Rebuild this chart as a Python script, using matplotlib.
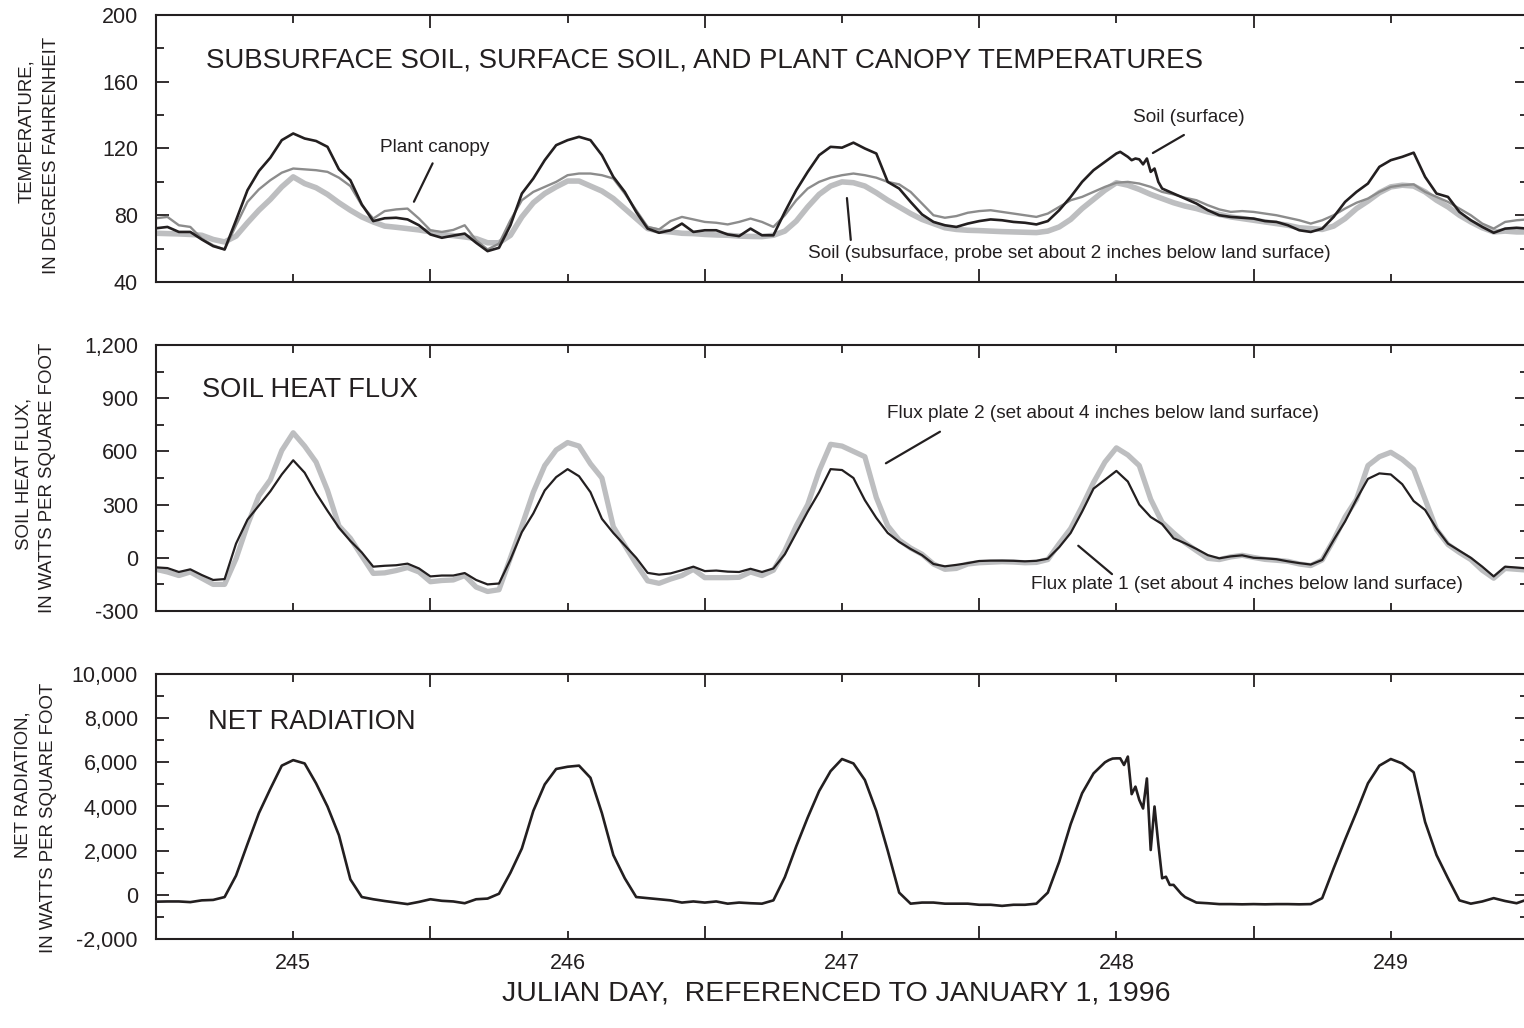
import numpy as np
import matplotlib
matplotlib.use("Agg")
import matplotlib.pyplot as plt

plt.rcParams['font.family'] = ['Liberation Sans', 'DejaVu Sans']
plt.rcParams['axes.unicode_minus'] = False

# Hourly readings, Julian days 244.5 - 249.5 (1996)
hours = np.arange(121)
julian_day = 244.5 + hours / 24.0

# Temperatures, degrees Fahrenheit
soil_surface = [
    72.2, 73.0, 70.0, 70.0, 65.5, 61.5, 59.5, 77.0, 95.0, 106.5, 114.5, 125.0,
    129.0, 126.0, 124.5, 121.0, 107.5, 101.0, 86.5, 76.5, 78.2, 78.5, 77.5, 74.0,
    68.5, 66.5, 67.8, 69.0, 63.5, 58.5, 60.5, 74.0, 93.0, 102.0, 113.0, 122.0,
    125.0, 127.0, 125.0, 116.0, 103.0, 94.0, 82.0, 72.0, 69.5, 71.0, 75.0, 70.0,
    71.0, 71.0, 68.5, 67.5, 72.0, 68.0, 68.0, 82.0, 95.0, 106.0, 116.0, 121.0,
    120.5, 123.5, 120.0, 117.0, 100.0, 96.0, 88.0, 80.5, 76.0, 74.0, 73.0, 75.0,
    76.5, 77.5, 77.0, 76.0, 75.5, 74.5, 76.5, 83.0, 91.0, 100.0, 107.0, 112.0,
    117.0, 115.0, 113.0, 107.0, 96.0, 93.0, 90.0, 87.0, 83.0, 80.0, 79.0, 78.5,
    78.0, 76.5, 76.0, 74.0, 71.0, 70.0, 72.0, 79.0, 88.0, 94.0, 99.0, 109.0,
    113.0, 115.0, 117.5, 103.0, 93.0, 91.0, 82.0, 77.0, 73.0, 69.5, 72.0, 72.5,
    72.0,
]
# 20-minute readings of surface temperature around the day-248 afternoon
surface_detail_day = [248.0, 248.0139, 248.0278, 248.0417, 248.0556, 248.0694,
                      248.0833, 248.0972, 248.1111, 248.125, 248.1389,
                      248.1528, 248.1667]
surface_detail = [117.0, 118.0, 116.5, 115.0, 113.0, 114.0, 113.5, 110.5,
                  114.0, 106.0, 108.0, 100.0, 96.0]

plant_canopy = [
    78.2, 79.0, 74.0, 73.0, 66.0, 62.0, 59.5, 74.0, 88.0, 95.5, 101.0, 105.5,
    108.0, 107.5, 107.0, 106.0, 102.5, 97.5, 86.0, 78.0, 82.5, 83.5, 84.0, 78.0,
    71.0, 70.0, 71.2, 74.0, 65.0, 59.5, 63.0, 77.0, 89.0, 94.0, 97.0, 100.0,
    104.0, 105.0, 105.0, 104.0, 102.0, 93.0, 83.0, 73.0, 71.5, 76.5, 79.0, 77.5,
    76.0, 75.5, 74.5, 76.0, 78.0, 76.0, 73.0, 80.0, 89.0, 96.0, 100.0, 102.5,
    104.0, 105.0, 104.0, 102.5, 100.0, 98.5, 94.0, 87.0, 80.0, 78.5, 79.5, 81.5,
    82.5, 83.0, 82.0, 81.0, 80.0, 79.0, 81.0, 85.0, 89.0, 91.0, 94.0, 97.0,
    99.5, 100.0, 99.0, 97.0, 94.0, 92.5, 90.5, 89.0, 86.0, 83.5, 82.0, 82.5,
    82.0, 81.0, 80.0, 78.5, 77.0, 75.0, 77.0, 80.0, 84.0, 87.5, 90.0, 94.0,
    97.0, 98.0, 98.5, 94.0, 91.0, 88.0, 84.0, 80.0, 75.0, 72.0, 76.0, 77.0,
    77.5,
]
soil_subsurface = [
    69.2, 69.0, 68.8, 68.5, 68.0, 65.5, 64.0, 67.5, 75.5, 83.0, 89.5, 97.0,
    103.0, 99.0, 96.5, 92.5, 87.5, 83.0, 79.0, 76.0, 73.5, 72.8, 72.0, 71.2,
    70.0, 68.5, 67.8, 67.0, 66.0, 63.5, 63.5, 68.0, 79.0, 87.5, 93.0, 97.0,
    100.5, 100.5, 97.5, 94.5, 90.0, 84.0, 78.0, 72.0, 70.5, 70.0, 69.2, 69.0,
    68.5, 68.2, 68.0, 67.5, 67.3, 67.2, 68.0, 70.5, 76.5, 85.0, 92.5, 97.5,
    100.0, 99.5, 97.5, 93.5, 89.0, 85.0, 81.0, 77.5, 75.0, 72.5, 71.5, 71.0,
    70.8, 70.5, 70.2, 70.0, 69.8, 69.6, 70.5, 73.0, 77.5, 84.0, 89.5, 95.0,
    99.5, 98.0, 95.5, 92.5, 90.0, 87.5, 85.5, 84.0, 82.0, 80.5, 79.0, 78.0,
    77.0, 76.0, 75.0, 74.0, 72.5, 72.0, 71.5, 73.5, 78.0, 84.0, 88.5, 93.5,
    97.0, 98.0, 97.5, 94.0, 89.0, 85.0, 80.0, 76.0, 72.5, 70.0, 70.5, 70.0,
    70.0,
]

# Soil heat flux, watts per square foot
flux_plate_1 = [
    -54, -58, -80, -65, -97, -125, -120, 80, 215, 295, 375, 470,
    550, 480, 365, 265, 170, 95, 30, -50, -45, -42, -33, -60,
    -105, -100, -100, -86, -125, -150, -145, -10, 145, 250, 380, 455,
    500, 460, 370, 220, 140, 70, 0, -85, -95, -88, -70, -50,
    -75, -72, -78, -80, -62, -80, -60, 20, 140, 260, 370, 500,
    495, 450, 325, 225, 140, 90, 50, 15, -35, -48, -40, -30,
    -18, -16, -16, -17, -20, -17, -5, 60, 140, 260, 390, 440,
    490, 430, 300, 230, 190, 110, 82, 50, 15, -3, 8, 14,
    0, -3, -8, -20, -30, -38, -12, 100, 205, 330, 445, 476,
    470, 415, 320, 270, 165, 80, 40, 0, -50, -105, -50, -55,
    -60,
]
flux_plate_2 = [
    -65, -80, -100, -80, -115, -150, -150, -5, 185, 350, 440, 605,
    705, 630, 540, 380, 180, 110, 10, -88, -85, -72, -55, -80,
    -135, -128, -125, -100, -165, -190, -180, 0, 180, 370, 520, 608,
    650, 630, 530, 450, 175, 70, -35, -130, -144, -120, -100, -65,
    -112, -112, -112, -110, -80, -100, -70, 40, 180, 300, 490, 640,
    630, 600, 570, 340, 180, 100, 55, 20, -35, -65, -60, -35,
    -28, -25, -22, -24, -28, -26, -10, 80, 165, 290, 425, 540,
    620, 580, 520, 330, 200, 140, 85, 40, -3, -10, 5, 14,
    2, -9, -14, -20, -35, -44, -12, 100, 230, 330, 520, 570,
    595, 555, 500, 330, 160, 75, 30, -10, -70, -115, -60, -65,
    -70,
]

# Net radiation, watts per square foot
net_radiation = [
    -310, -300, -300, -330, -250, -230, -100, 870, 2300, 3700, 4800, 5850,
    6100, 5950, 5050, 4000, 2700, 700, -100, -200, -280, -350, -420, -320,
    -200, -270, -300, -380, -200, -170, 50, 1000, 2100, 3800, 5000, 5700,
    5800, 5850, 5300, 3700, 1800, 750, -100, -150, -200, -250, -350, -300,
    -350, -300, -400, -350, -380, -400, -250, 800, 2200, 3500, 4700, 5600,
    6150, 5950, 5200, 3800, 2000, 100, -400, -350, -350, -400, -400, -400,
    -450, -450, -500, -450, -450, -400, 100, 1500, 3200, 4600, 5500, 6000,
    6180, 6000, 4500, 2500, 800, 450, -100, -350, -380, -420, -420, -430,
    -420, -430, -420, -420, -430, -420, -150, 1200, 2500, 3750, 5050, 5850,
    6150, 5950, 5550, 3300, 1800, 750, -250, -400, -300, -150, -280, -380,
    -200,
]
# 20-minute readings of net radiation around the day-248 afternoon
radiation_detail_day = [247.9583, 247.9722, 247.9861, 248.0, 248.0139, 248.0278,
                        248.0417, 248.0556, 248.0694, 248.0833, 248.0972,
                        248.1111, 248.125, 248.1389, 248.1528, 248.1667,
                        248.1806, 248.1944, 248.2083, 248.2222, 248.2361, 248.25]
radiation_detail = [6000, 6100, 6170, 6180, 6180, 5880, 6260, 4560, 4900, 4300,
                    3910, 5270, 2030, 4000, 2300, 750, 820, 450, 450, 250, 50,
                    -100]

day_ticks = [245, 246, 247, 248, 249]
half_day_ticks = [244.5, 245.5, 246.5, 247.5, 248.5, 249.5]

temp_ticks = [40, 80, 120, 160, 200]
flux_ticks = [-300, 0, 300, 600, 900, 1200]
radiation_ticks = [-2000, 0, 2000, 4000, 6000, 8000, 10000]

BLACK = '#231f20'
MID_GRAY = '#8c8c8c'
LIGHT_GRAY = '#bdbec0'


def with_detail(values, detail_day, detail_values):
    """Hourly series with the finer readings spliced in over their span."""
    values = np.asarray(values, dtype=float)
    dd = np.asarray(detail_day, dtype=float)
    keep = (julian_day < dd[0] - 1e-6) | (julian_day > dd[-1] + 1e-6)
    x = np.concatenate([julian_day[keep], dd])
    y = np.concatenate([values[keep], np.asarray(detail_values, dtype=float)])
    order = np.argsort(x)
    return x[order], y[order]


fig = plt.figure(figsize=(15.24, 10.28), dpi=100)
FW, FH = 1524.0, 1028.0
left, width = 156 / FW, 1372 / FW
ax_t = fig.add_axes([left, 1 - 282 / FH, width, 267 / FH])
ax_m = fig.add_axes([left, 1 - 611 / FH, width, 266 / FH])
ax_b = fig.add_axes([left, 1 - 939 / FH, width, 265 / FH])


def fmt(v):
    return '{:,}'.format(int(v))


def style_axes(ax, ticks, minor_step, show_days):
    ax.set_xlim(244.5, 249.5)
    ax.set_ylim(ticks[0], ticks[-1])
    ax.set_xticks(half_day_ticks)
    ax.set_xticklabels([])
    ax.set_xticks(day_ticks, minor=True)
    if show_days:
        ax.set_xticklabels([str(d) for d in day_ticks], minor=True)
    else:
        ax.set_xticklabels([], minor=True)
    ax.set_yticks(ticks)
    ax.set_yticklabels([fmt(t) for t in ticks])
    ax.set_yticks(np.arange(ticks[0], ticks[-1] + 1, minor_step), minor=True)
    ax.tick_params(which='both', direction='in', top=True, right=True,
                   width=1.3, color=BLACK, labelsize=15.5, labelcolor=BLACK)
    ax.tick_params(which='major', length=9.5)
    ax.tick_params(which='minor', length=5.5)
    ax.tick_params(axis='y', which='major', pad=13)
    ax.tick_params(axis='x', which='minor', pad=10)
    for s in ax.spines.values():
        s.set_linewidth(1.5)
        s.set_color(BLACK)


style_axes(ax_t, temp_ticks, 20, False)
style_axes(ax_m, flux_ticks, 150, False)
style_axes(ax_b, radiation_ticks, 1000, True)

# Temperatures
ax_t.plot(julian_day, soil_subsurface, color=LIGHT_GRAY, lw=4.0, solid_joinstyle='round')
ax_t.plot(julian_day, plant_canopy, color=MID_GRAY, lw=1.7)
sx, sy = with_detail(soil_surface, surface_detail_day, surface_detail)
ax_t.plot(sx, sy, color=BLACK, lw=1.9)

# Soil heat flux
ax_m.plot(julian_day, flux_plate_2, color=LIGHT_GRAY, lw=3.8, solid_joinstyle='round')
ax_m.plot(julian_day, flux_plate_1, color=BLACK, lw=1.6)

# Net radiation
rx, ry = with_detail(net_radiation, radiation_detail_day, radiation_detail)
ax_b.plot(rx, ry, color=BLACK, lw=1.9)

ax_t.text(0.0364, 0.828, 'SUBSURFACE SOIL, SURFACE SOIL, AND PLANT CANOPY TEMPERATURES',
          transform=ax_t.transAxes, ha='left', va='center', fontsize=19.9, color=BLACK)
ax_m.text(0.0335, 0.831, 'SOIL HEAT FLUX',
          transform=ax_m.transAxes, ha='left', va='center', fontsize=19.6, color=BLACK)
ax_b.text(0.038, 0.819, 'NET RADIATION',
          transform=ax_b.transAxes, ha='left', va='center', fontsize=19.6, color=BLACK)

leader = dict(arrowstyle='-', color=BLACK, lw=1.6, shrinkA=0, shrinkB=0)
note_kw = dict(fontsize=13.7, color=BLACK, va='center')


def callout(ax, text, text_xy, ha, line_from, line_to):
    ax.text(text_xy[0], text_xy[1], text, ha=ha, **note_kw)
    ax.annotate('', xy=line_to, xytext=line_from, arrowprops=leader)


callout(ax_t, 'Plant canopy', (245.517, 120.3), 'center',
        (245.508, 111.1), (245.440, 88.1))
callout(ax_t, 'Soil (surface)', (248.265, 138.3), 'center',
        (248.246, 128.1), (248.133, 117.3))
callout(ax_t, 'Soil (subsurface, probe set about 2 inches below land surface)',
        (246.876, 56.8), 'left', (247.018, 90.3), (247.032, 65.2))
callout(ax_m, 'Flux plate 2 (set about 4 inches below land surface)',
        (247.164, 816), 'left', (247.357, 711), (247.160, 533))
callout(ax_m, 'Flux plate 1 (set about 4 inches below land surface)',
        (247.689, -148), 'left', (247.861, 68), (247.984, -92))

# Axis titles
ylab_kw = dict(rotation=90, ha='center', va='center', fontsize=13.4, color=BLACK)
fig.text(26.7 / FW, 1 - 131 / FH, 'TEMPERATURE,', **ylab_kw)
fig.text(51.7 / FW, 1 - 155.5 / FH, 'IN DEGREES FAHRENHEIT', **ylab_kw)
fig.text(24 / FW, 1 - 473.5 / FH, 'SOIL HEAT FLUX,', **ylab_kw)
fig.text(48 / FW, 1 - 478 / FH, 'IN WATTS PER SQUARE FOOT', **ylab_kw)
fig.text(23.3 / FW, 1 - 785 / FH, 'NET RADIATION,', **ylab_kw)
fig.text(48.3 / FW, 1 - 818 / FH, 'IN WATTS PER SQUARE FOOT', **ylab_kw)

fig.text(836 / FW, 1 - 993 / FH, 'JULIAN DAY,  REFERENCED TO JANUARY 1, 1996',
         ha='center', va='center', fontsize=20.5, color=BLACK)

fig.savefig('out.png', dpi=100)
